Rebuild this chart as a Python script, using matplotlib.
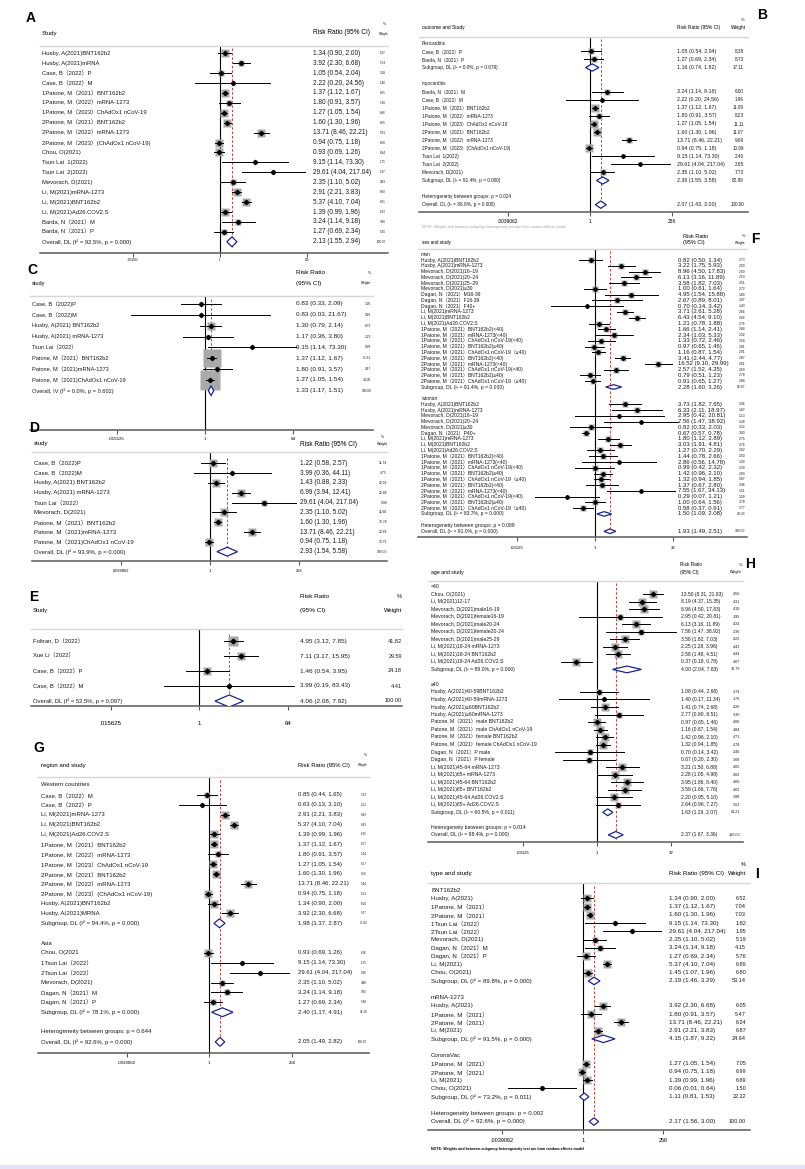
import matplotlib
matplotlib.use("Agg")
import matplotlib.pyplot as plt
import matplotlib.transforms as mtransforms
from matplotlib.patches import Polygon, Rectangle
from matplotlib.ticker import NullLocator
import numpy as np

plt.rcParams['font.family'] = ['Liberation Sans', 'Noto Sans CJK SC']

W, H = 805, 1169

# ---------------- data ----------------
# A: overall
A_labels = ["Husby, A(2021)BNT162b2", "Husby, A(2021)mRNA", "Case, B（2022）P", "Case, B（2022）M",
            "1Patone, M（2021）BNT162b2", "1Patone, M（2022）mRNA-1273", "1Patone, M（2023）ChAdOx1 nCoV-19",
            "2Patone, M（2021）BNT162b2", "2Patone, M（2022）mRNA-1273", "2Patone, M（2023）(ChAdOx1 nCoV-19)",
            "Chou, O(2021)", "Tsun Lai  1(2022)", "Tsun Lai  2(2022)", "Mevorach, D(2021)",
            "Li, M(2021)mRNA-1273", "Li, M(2021)BNT162b2", "Li, M(2021)Ad26.COV2.S",
            "Barda, N（2021）M", "Barda, N（2021）P", "Overall, DL (I² = 92.5%, p = 0.000)"]
A_rr = [1.34, 3.92, 1.05, 2.22, 1.37, 1.80, 1.27, 1.60, 13.71, 0.94, 0.93, 9.15, 29.61, 2.35, 2.91, 5.37, 1.39, 3.24, 1.27, 2.13]
A_lo = [0.90, 2.30, 0.54, 0.20, 1.12, 0.91, 1.05, 1.30, 8.46, 0.75, 0.69, 1.14, 4.04, 1.10, 2.21, 4.10, 0.99, 1.14, 0.69, 1.55]
A_hi = [2.00, 6.68, 2.04, 24.56, 1.67, 3.57, 1.54, 1.96, 22.21, 1.18, 1.26, 73.30, 217.04, 5.02, 3.83, 7.04, 1.96, 9.18, 2.34, 2.94]
A_wt = [6.17, 5.74, 5.28, 1.40, 6.65, 5.20, 6.66, 6.65, 5.91, 6.60, 6.44, 1.75, 1.87, 4.93, 6.60, 6.61, 6.33, 3.98, 5.45, 100.00]

# B: outcome
B_labels = ["Pericarditis", "Case, B（2022）P", "Barda, N（2021）P", "Subgroup, DL (I² = 0.0%, p = 0.679)", "",
            "myocarditis", "Barda, N（2021）M", "Case, B（2022）M", "1Patone, M（2021）BNT162b2",
            "1Patone, M（2022）mRNA-1273", "1Patone, M（2023）ChAdOx1 nCoV-19", "2Patone, M（2021）BNT162b2",
            "2Patone, M（2022）mRNA-1273", "2Patone, M（2023）(ChAdOx1 nCoV-19)", "Tsun Lai  1(2022)",
            "Tsun Lai  2(2022)", "Mevorach, D(2021)", "Subgroup, DL (I² = 91.4%, p = 0.000)", "",
            "Heterogeneity between groups: p = 0.024", "Overall, DL (I² = 86.8%, p = 0.000)"]
B_rr = [None, 1.05, 1.27, 1.16, None, None, 3.24, 2.22, 1.37, 1.80, 1.27, 1.60, 13.71, 0.94, 9.15, 29.61, 2.35, 2.36, None, None, 2.07]
B_lo = [None, 0.54, 0.69, 0.74, None, None, 1.14, 0.20, 1.12, 0.91, 1.05, 1.30, 8.46, 0.75, 1.14, 4.04, 1.10, 1.55, None, None, 1.43]
B_hi = [None, 2.04, 2.34, 1.82, None, None, 9.18, 24.56, 1.67, 3.57, 1.54, 1.96, 22.21, 1.18, 73.30, 217.04, 5.02, 3.58, None, None, 3.00]
B_wt = [None, 8.38, 8.73, 17.11, None, None, 6.00, 1.96, 11.09, 8.23, 11.11, 11.07, 9.69, 10.99, 2.46, 2.65, 7.73, 82.89, None, None, 100.00]

# C
C_labels = ["Case, B（2022)P", "Case, B（2022)M", "Husby, A(2021) BNT162b2", "Husby, A(2021) mRNA-1273",
            "Tsun Lai（2022）", "Patone, M（2021）BNT162b2", "Patone, M（2021)mRNA-1273",
            "Patone, M（2021)ChAdOx1 nCoV-19", "Overall, IV (I² = 0.0%, p = 0.602)"]
C_rr = [0.83, 0.83, 1.30, 1.17, 9.15, 1.37, 1.80, 1.27, 1.33]
C_lo = [0.33, 0.03, 0.79, 0.36, 1.14, 1.12, 0.91, 1.05, 1.17]
C_hi = [2.09, 21.67, 2.14, 3.80, 73.30, 1.67, 3.57, 1.54, 1.51]
C_wt = [1.95, 0.16, 6.73, 1.21, 0.39, 41.61, 3.67, 44.09, 100.00]

# D
D_labels = ["Case, B（2022)P", "Case, B（2022)M", "Husby, A(2021) BNT162b2", "Husby, A(2021) mRNA-1273",
            "Tsun Lai（2022）", "Mevorach, D(2021)", "Patone, M（2021）BNT162b2", "Patone, M（2021)mRNA-1273",
            "Patone, M（2021)ChAdOx1 nCoV-19", "Overall, DL (I² = 93.9%, p = 0.000)"]
D_rr = [1.22, 3.99, 1.43, 6.99, 29.61, 2.35, 1.60, 13.71, 0.94, 2.93]
D_lo = [0.58, 0.36, 0.88, 3.94, 4.04, 1.10, 1.30, 8.46, 0.75, 1.54]
D_hi = [2.57, 44.11, 2.33, 12.41, 217.04, 5.02, 1.96, 22.21, 1.18, 5.58]
D_wt = [11.74, 4.73, 12.92, 12.88, 5.98, 11.68, 13.78, 12.64, 13.71, 100.00]

# E
E_labels = ["Foltran, D（2022）", "Xue Li（2022）", "Case, B（2022）P", "Case, B（2022）M",
            "Overall, DL (I² = 52.5%, p = 0.097)"]
E_rr = [4.95, 7.11, 1.46, 3.99, 4.06]
E_lo = [3.12, 3.17, 0.54, 0.19, 2.08]
E_hi = [7.85, 15.95, 3.95, 83.43, 7.92]
E_wt = [41.82, 29.59, 24.18, 4.41, 100.00]

# F: sex
F_labels = ["man", "Husby, A(2021)BNT162b2", "Husby, A(2021)mRNA-1273", "Mevorach, D(2021)16–19",
            "Mevorach, D(2021)20–24", "Mevorach, D(2021)25–29", "Mevorach, D(2021)≥30",
            "Dagan, N（2021）M16-39", "Dagan, N（2021）F16-39", "Dagan, N（2021）F40+",
            "Li, M(2021)mRNA-1273", "Li, M(2021)BNT162b2", "Li, M(2021)Ad26.COV2.S",
            "1Patone, M（2021）BNT162b2(<40)", "1Patone, M（2021）mRNA-1273(<40)",
            "1Patone, M（2021）ChAdOx1 nCoV-19(<40)", "1Patone, M（2021）BNT162b2(≥40)",
            "1Patone, M（2021）ChAdOx1 nCoV-19（≥40)", "2Patone, M（2021）BNT162b2(<40)",
            "2Patone, M（2021）mRNA-1273(<40)", "2Patone, M（2021）ChAdOx1 nCoV-19(<40)",
            "2Patone, M（2021）BNT162b2(≥40)", "2Patone, M（2021）ChAdOx1 nCoV-19（≥40)",
            "Subgroup, DL (I² = 91.4%, p = 0.000)", "",
            "woman", "Husby, A(2021)BNT162b2", "Husby, A(2021)mRNA-1273", "Mevorach, D(2021)16–19",
            "Mevorach, D(2021)20–24", "Mevorach, D(2021)≥30", "Dagan, N（2021）P40+",
            "Li, M(2021)mRNA-1273", "Li, M(2021)BNT162b2", "Li, M(2021)Ad26.COV2.S",
            "1Patone, M（2021）BNT162b2(<40)", "1Patone, M（2021）mRNA-1273(<40)",
            "1Patone, M（2021）ChAdOx1 nCoV-19(<40)", "1Patone, M（2021）BNT162b2(≥40)",
            "1Patone, M（2021）ChAdOx1 nCoV-19（≥40)", "2Patone, M（2021）BNT162b2(<40)",
            "2Patone, M（2021）mRNA-1273(<40)", "2Patone, M（2021）ChAdOx1 nCoV-19(<40)",
            "2Patone, M（2021）BNT162b2(≥40)", "2Patone, M（2021）ChAdOx1 nCoV-19（≥40)",
            "Subgroup, DL (I² = 83.7%, p = 0.000)", "",
            "Heterogeneity between groups: p = 0.089", "Overall, DL (I² = 91.0%, p = 0.000)"]
F_rr = [None, 0.82, 3.22, 8.96, 6.13, 3.58, 1.00, 4.95, 2.67, 0.70, 3.71, 6.43, 1.21, 1.66, 2.34, 1.33, 0.97, 1.16,
        3.41, 16.52, 2.57, 0.79, 0.91, 2.28, None,
        None, 3.73, 6.33, 2.95, 7.56, 0.82, 0.67, 1.80, 3.03, 1.27, 1.44, 2.86, 0.99, 1.42, 1.32,
        1.37, 7.55, 0.29, 1.00, 0.58, 1.50, None, None, 1.93]
F_lo = [None, 0.50, 1.75, 4.50, 3.16, 1.82, 0.61, 1.54, 0.89, 0.14, 2.61, 4.54, 0.78, 1.14, 1.03, 0.72, 0.65, 0.87,
        2.44, 9.10, 1.52, 0.51, 0.65, 1.60, None,
        None, 1.82, 2.11, 0.42, 1.47, 0.33, 0.57, 1.12, 1.91, 0.70, 0.78, 0.56, 0.42, 0.96, 0.94,
        0.67, 1.67, 0.07, 0.64, 0.37, 1.09, None, None, 1.49]
F_hi = [None, 1.34, 5.93, 17.83, 11.89, 7.03, 1.64, 15.88, 8.01, 3.42, 5.28, 9.10, 1.88, 2.41, 5.33, 2.46, 1.46, 1.54,
        4.77, 29.99, 4.35, 1.23, 1.27, 3.26, None,
        None, 7.65, 18.97, 20.81, 38.92, 2.03, 0.78, 2.89, 4.81, 2.29, 2.66, 14.78, 2.32, 2.10, 1.85,
        2.80, 34.13, 1.21, 1.56, 0.91, 2.08, None, None, 2.51]
F_wt = [None, 2.73, 2.59, 2.50, 2.53, 2.51, 2.72, 1.89, 1.97, 1.43, 2.66, 2.66, 2.76, 2.84, 2.32, 2.58, 2.81, 2.91,
        2.87, 2.61, 2.69, 2.78, 2.88, 56.67, None,
        None, 2.46, 1.87, 1.13, 1.38, 2.22, 3.00, 2.75, 2.76, 2.62, 2.50, 1.39, 2.29, 2.83, 2.87,
        2.46, 1.51, 1.59, 2.78, 2.77, 43.33, None, None, 100.00]

# G: region
G_labels = ["Western countries", "Case, B（2022）M", "Case, B（2022）P", "Li, M(2021)mRNA-1273", "Li, M(2021)BNT162b2",
            "Li, M(2021)Ad26.COV2.S", "1Patone, M（2021）BNT162b2", "1Patone, M（2022）mRNA-1273",
            "1Patone, M（2023）ChAdOx1 nCoV-19", "2Patone, M（2021）BNT162b2", "2Patone, M（2022）mRNA-1273",
            "2Patone, M（2023）(ChAdOx1 nCoV-19)", "Husby, A(2021)BNT162b2", "Husby, A(2021)MRNA",
            "Subgroup, DL (I² = 94.4%, p = 0.000)", "",
            "Asia", "Chou, O(2021", "1Tsun Lai（2022）", "2Tsun Lai（2022）", "Mevorach, D(2021)",
            "Dagan, N（2021）M", "Dagan, N（2021）P", "Subgroup, DL (I² = 78.1%, p = 0.000)", "",
            "Heterogeneity between groups: p = 0.644", "Overall, DL (I² = 92.6%, p = 0.000)"]
G_rr = [None, 0.85, 0.63, 2.91, 5.37, 1.39, 1.37, 1.80, 1.27, 1.60, 13.71, 0.94, 1.34, 3.92, 1.98, None,
        None, 0.93, 9.15, 29.61, 2.35, 3.24, 1.27, 2.40, None, None, 2.05]
G_lo = [None, 0.44, 0.13, 2.21, 4.10, 0.99, 1.12, 0.91, 1.05, 1.30, 8.46, 0.75, 0.90, 2.30, 1.37, None,
        None, 0.69, 1.14, 4.04, 1.10, 1.14, 0.69, 1.17, None, None, 1.49]
G_hi = [None, 1.65, 3.10, 3.83, 7.04, 1.96, 1.67, 3.57, 1.54, 1.96, 22.21, 1.18, 2.00, 6.68, 2.87, None,
        None, 1.26, 73.30, 217.04, 5.02, 9.18, 2.34, 4.91, None, None, 2.82]
G_wt = [None, 5.23, 2.52, 6.42, 6.43, 6.25, 6.57, 5.14, 6.57, 6.56, 5.84, 6.52, 6.10, 5.67, 75.82, None,
        None, 6.36, 1.75, 1.86, 4.88, 3.93, 5.40, 24.18, None, None, 100.00]

# H: age
H_labels = ["<40", "Chou, O(2021)", "Li, M(2021)12-17", "Mevorach, D(2021)male16-19", "Mevorach, D(2021)female16-19",
            "Mevorach, D(2021)male20-24", "Mevorach, D(2021)female20-24", "Mevorach, D(2021)male25-29",
            "Li, M(2021)18-24 mRNA-1273", "Li, M(2021)18-24 BNT162b2", "Li, M(2021)18-24 Ad26.COV2.S",
            "Subgroup, DL (I² = 89.0%, p = 0.000)", "",
            "≥40", "Husby, A(2021)40-59BNT162b2", "Husby, A(2021)40-59mRNA-1273", "Husby, A(2021)≥60BNT162b2",
            "Husby, A(2021)≥60mRNA-1273", "Patone, M（2021）male BNT162b2", "Patone, M（2021）male ChAdOx1 nCoV-19",
            "Patone, M（2021）female BNT162b2", "Patone, M（2021）female ChAdOx1 nCoV-19",
            "Dagan, N（2021）P male", "Dagan, N（2021）P female", "Li, M(2021)45-64 mRNA-1273",
            "Li, M(2021)65+ mRNA-1273", "Li, M(2021)45-64 BNT162b2", "Li, M(2021)65+ BNT162b2",
            "Li, M(2021)45-64 Ad26.COV2.S", "Li, M(2021)65+ Ad26.COV2.S",
            "Subgroup, DL (I² = 60.5%, p = 0.011)", "",
            "Heterogeneity between groups: p = 0.014", "Overall, DL (I² = 88.4%, p = 0.000)"]
H_rr = [None, 13.50, 8.19, 8.96, 2.95, 6.13, 7.56, 3.58, 2.25, 2.58, 0.37, 4.00, None,
        None, 1.08, 1.40, 1.41, 2.77, 0.97, 1.16, 1.42, 1.32, 0.70, 0.67, 3.21, 2.28, 3.95, 3.59, 2.20, 2.64, 1.63, None,
        None, 2.37]
H_lo = [None, 8.31, 4.37, 4.50, 0.42, 3.16, 1.47, 1.82, 1.28, 1.48, 0.18, 2.04, None,
        None, 0.44, 0.17, 0.74, 0.90, 0.65, 0.87, 0.96, 0.94, 0.14, 0.20, 1.50, 1.05, 1.86, 1.66, 0.95, 0.96, 1.29, None,
        None, 1.67]
H_hi = [None, 21.93, 15.35, 17.83, 20.81, 11.89, 38.92, 7.03, 3.96, 4.51, 0.78, 7.83, None,
        None, 2.68, 11.34, 2.68, 8.51, 1.46, 1.54, 2.10, 1.85, 3.42, 2.30, 6.88, 4.98, 8.40, 7.76, 5.10, 7.27, 2.07, None,
        None, 3.36]
H_wt = [None, 4.56, 4.31, 4.19, 1.95, 4.24, 2.36, 4.22, 4.43, 4.44, 4.07, 38.79, None,
        None, 3.74, 1.79, 4.26, 3.30, 4.68, 4.84, 4.71, 4.78, 2.46, 3.08, 4.05, 4.02, 4.06, 4.02, 3.88, 3.52, 61.21, None,
        None, 100.00]

# I: vaccine type
I_labels = ["BNT162b2", "Husby, A(2021)", "1Patone, M（2021）", "2Patone, M（2021）", "1Tsun Lai（2022）",
            "2Tsun Lai（2022）", "Mevorach, D(2021)", "Dagan, N（2021）M", "Dagan, N（2021）P", "Li, M(2021)",
            "Chou, O(2021)", "Subgroup, DL (I² = 89.8%, p = 0.000)", "",
            "mRNA-1273", "Husby, A(2021)", "1Patone, M（2021）", "2Patone, M（2021）", "Li, M(2021)",
            "Subgroup, DL (I² = 91.5%, p = 0.000)", "",
            "CoronaVac", "1Patone, M（2021）", "2Patone, M（2021）", "Li, M(2021)", "Chou, O(2021)",
            "Subgroup, DL (I² = 73.2%, p = 0.011)", "",
            "Heterogeneity between groups: p = 0.002", "Overall, DL (I² = 92.6%, p = 0.000)"]
I_rr = [None, 1.34, 1.37, 1.60, 9.15, 29.61, 2.35, 3.24, 1.27, 5.37, 1.45, 2.19, None,
        None, 3.92, 1.80, 13.71, 2.91, 4.15, None,
        None, 1.27, 0.94, 1.39, 0.06, 1.11, None, None, 2.17]
I_lo = [None, 0.90, 1.12, 1.30, 1.14, 4.04, 1.10, 1.14, 0.69, 4.10, 1.07, 1.46, None,
        None, 2.30, 0.91, 8.46, 2.21, 1.87, None,
        None, 1.05, 0.75, 0.99, 0.006, 0.81, None, None, 1.56]
I_hi = [None, 2.00, 1.67, 1.96, 73.30, 217.04, 5.02, 9.18, 2.34, 7.04, 1.96, 3.29, None,
        None, 6.68, 3.57, 22.21, 3.83, 9.22, None,
        None, 1.54, 1.18, 1.96, 0.64, 1.53, None, None, 3.00]
I_wt = [None, 6.52, 7.04, 7.03, 1.82, 1.95, 5.19, 4.15, 5.76, 6.89, 6.80, 53.14, None,
        None, 6.05, 5.47, 6.24, 6.87, 24.64, None,
        None, 7.05, 6.99, 6.69, 1.50, 22.22, None, None, 100.00]

T256 = ([1 / 256, 1, 256], ['.0039062', '1', '256'])
T64 = ([1 / 64, 1, 64], ['.015625', '1', '64'])
T32 = ([1 / 32, 1, 32], ['.03125', '1', '32'])

fig = plt.figure(figsize=(W / 100, H / 100), dpi=100)


def put(px, py, s, fs, ha='left', **kw):
    fig.text(px / W, 1 - py / H, s, fontsize=fs, ha=ha, va='center', **kw)


def forest(L, labels, rr, lo, hi, wt):
    x0, x1, ytop, ybot = L['box']
    ax = fig.add_axes([x0 / W, 1 - ybot / H, (x1 - x0) / W, (ybot - ytop) / H])
    ax.set_xscale('log', base=2)
    nx, ppu = L['null'], L['ppu']
    ax.set_xlim(2 ** ((x0 - nx) / ppu), 2 ** ((x1 - nx) / ppu))
    r0, dy = L['row0'], L['dy']
    ax.set_ylim((ybot - r0) / dy, (ytop - r0) / dy)
    tr = mtransforms.blended_transform_factory(ax.transAxes, ax.transData)

    def fx(px):
        return (px - x0) / (x1 - x0)

    n = len(labels)
    ax.axvline(1, color='black', lw=0.8, zorder=1)
    ov = rr[-1]
    ax.plot([ov, ov], [-0.5, n - 0.5], color='#d03a3a', lw=0.7, ls=(0, (2.5, 2)), zorder=1)

    for i, lab in enumerate(labels):
        if lab == '':
            continue
        ax.text(fx(L['lab_x']), i, lab, transform=tr, fontsize=L['fs'], va='center', ha='left',
                color='#1a1a1a', clip_on=False)
        if rr[i] is None:
            continue
        ax.text(fx(L['rr_x']), i, f"{rr[i]:.2f} ({lo[i]:.2f}, {hi[i]:.2f})", transform=tr,
                fontsize=L['fs_rr'], va='center', ha='left', color='#1a1a1a', clip_on=False)
        ax.text(fx(L['wt_x']), i, f"{wt[i]:.2f}", transform=tr, fontsize=L['fs_w'],
                va='center', ha='right', color='#1a1a1a', clip_on=False)
        if lab.startswith('Subgroup') or lab.startswith('Overall'):
            h = L['dh']
            ax.add_patch(Polygon([[lo[i], i], [rr[i], i - h], [hi[i], i], [rr[i], i + h]], closed=True,
                                 fc='white', ec='#1c2590', lw=0.9, zorder=4))
        else:
            side = L['k'] * np.sqrt(wt[i]) * 0.72
            ax.plot(rr[i], i, marker='s', ms=side, color='#a9a9a9', mec='none', zorder=2)
            ax.plot([lo[i], hi[i]], [i, i], color='black', lw=0.7, zorder=3)
            ax.plot(rr[i], i, marker='D', ms=L['dot'], color='black', zorder=3)

    for s in ['left', 'right']:
        ax.spines[s].set_visible(False)
    ax.spines['top'].set_color('#d6d6d6')
    ax.spines['top'].set_linewidth(1.0)
    ax.spines['bottom'].set_color('#5a5a5a')
    ax.spines['bottom'].set_linewidth(1.1)
    ax.set_yticks([])
    ax.set_xticks(L['ticks'][0])
    ax.set_xticklabels(L['ticks'][1])
    ax.xaxis.set_minor_locator(NullLocator())
    ax.tick_params(axis='x', length=3, width=0.8, color='#5a5a5a', labelsize=L['fs_t'], pad=L['pad'])
    ax.patch.set_alpha(0)
    return ax


# ---------------- panels ----------------
forest(dict(box=(40, 388, 46, 253), null=220, ppu=10.9, row0=53.3, dy=9.92, lab_x=42, rr_x=313, wt_x=386,
            fs=4.2, fs_rr=4.7, fs_w=2.2, fs_t=2, pad=0.5, k=2.9, dh=0.5, dot=2.2, ticks=T256),
       A_labels, A_rr, A_lo, A_hi, A_wt)
put(42, 33, "Study", 4.3)
put(313, 33, "Risk Ratio (95% CI)", 4.7)
put(388, 34, "Weight", 2.2, ha='right')
put(386, 24, "%", 2.5, ha='right')
put(26, 18, "A", 10, weight='bold')

forest(dict(box=(419, 748, 36.7, 212.3), null=590, ppu=10.3, row0=43.3, dy=8.07, lab_x=421.7, rr_x=676.7, wt_x=744,
            fs=3.4, fs_rr=3.8, fs_w=3.3, fs_t=3.5, pad=2, k=2.2, dh=0.45, dot=2, ticks=T256),
       B_labels, B_rr, B_lo, B_hi, B_wt)
put(421.7, 28, "outcome and Study", 3.5)
put(676.7, 28, "Risk Ratio (95% CI)", 3.5)
put(746, 28, "Weight", 3.4, ha='right')
put(744, 20, "%", 3, ha='right')
put(757, 15, "B", 10, weight='bold')
put(421.7, 226.5, "NOTE: Weights and between-subgroup heterogeneity test are from random-effects model", 2.6,
    color='#a0a0a0')

forest(dict(box=(30, 372.7, 296, 430), null=205, ppu=14.7, row0=304, dy=10.84, lab_x=31.7, rr_x=296, wt_x=371,
            fs=4.1, fs_rr=4.6, fs_w=2.3, fs_t=3.2, pad=2, k=2.9, dh=0.45, dot=2.2, ticks=T64),
       C_labels, C_rr, C_lo, C_hi, C_wt)
put(31.7, 283.3, "study", 4.1)
put(296, 272.7, "Risk Ratio", 4.6)
put(296, 283.3, "(95% CI)", 4.6)
put(371, 272.7, "%", 2.5, ha='right')
put(371, 283.3, "Weight", 2.3, ha='right')
put(27, 270, "C", 10, weight='bold')

forest(dict(box=(31.7, 386.7, 452.3, 561), null=210, ppu=11.1, row0=463.3, dy=9.82, lab_x=34.3, rr_x=300, wt_x=387,
            fs=4.3, fs_rr=4.7, fs_w=2.4, fs_t=2.9, pad=2.5, k=2.2, dh=0.45, dot=2.2, ticks=T256),
       D_labels, D_rr, D_lo, D_hi, D_wt)
put(34.3, 444, "study", 4.3)
put(300, 444, "Risk Ratio (95% CI)", 4.7)
put(388, 444, "Weight", 2.5, ha='right')
put(384, 436.7, "%", 2.5, ha='right')
put(29, 428, "D", 10, weight='bold')

forest(dict(box=(30.7, 402, 629, 705.7), null=199.3, ppu=14.8, row0=641, dy=15, lab_x=33, rr_x=300, wt_x=402,
            fs=4.2, fs_rr=4.6, fs_w=4.0, fs_t=4.4, pad=8, k=1.65, dh=0.4, dot=2.4, ticks=T64),
       E_labels, E_rr, E_lo, E_hi, E_wt)
put(33, 610.5, "Study", 4.2)
put(300, 596, "Risk Ratio", 4.6)
put(300, 610.5, "(95% CI)", 4.6)
put(402, 610.5, "Weight", 4.2, ha='right')
put(402, 596, "%", 4.2, ha='right')
put(29, 597, "E", 10, weight='bold')

forest(dict(box=(418.3, 746.7, 249, 537.3), null=595, ppu=15.67, row0=254.3, dy=5.77, lab_x=420.7, rr_x=678.3,
            wt_x=745, fs=3.6, fs_rr=4.3, fs_w=2.4, fs_t=3.1, pad=3, k=3.9, dh=0.4, dot=2.0, ticks=T32),
       F_labels, F_rr, F_lo, F_hi, F_wt)
put(421.7, 242.3, "sex and study", 3.3)
put(682.7, 236, "Risk Ratio", 4.0)
put(682.7, 242.3, "(95% CI)", 4.0)
put(745, 236, "%", 2.8, ha='right')
put(745, 243, "Weight", 2.4, ha='right')
put(751, 239, "F", 10, weight='bold')

forest(dict(box=(38.3, 369.3, 776.7, 1052.7), null=209.3, ppu=10.33, row0=785, dy=9.88, lab_x=40.7, rr_x=297.7,
            wt_x=367, fs=4.3, fs_rr=4.3, fs_w=2.2, fs_t=3.2, pad=3, k=3.0, dh=0.45, dot=2.2, ticks=T256),
       G_labels, G_rr, G_lo, G_hi, G_wt)
put(40.7, 765, "region and study", 4.3)
put(297.7, 765, "Risk Ratio (95% CI)", 4.2)
put(367, 765, "Weight", 2.2, ha='right')
put(367, 755, "%", 2.5, ha='right')
put(33, 748, "G", 10, weight='bold')

forest(dict(box=(428.3, 743.3, 581, 841.7), null=597.3, ppu=14.83, row0=586.7, dy=7.52, lab_x=431, rr_x=680.7,
            wt_x=740, fs=3.7, fs_rr=3.6, fs_w=2.7, fs_t=3.1, pad=3.5, k=3.6, dh=0.45, dot=2.2, ticks=T32),
       H_labels, H_rr, H_lo, H_hi, H_wt)
put(431, 572.3, "age and study", 3.7)
put(680, 565, "Risk Ratio", 3.4)
put(680, 572.3, "(95% CI)", 3.4)
put(742, 565, "%", 2.8, ha='right')
put(742, 572.3, "Weight", 2.7, ha='right')
put(745, 564, "H", 10, weight='bold')

forest(dict(box=(428.3, 750, 883.3, 1130), null=582.7, ppu=10.08, row0=890, dy=8.27, lab_x=431, rr_x=669.3,
            wt_x=746, fs=4.45, fs_rr=4.5, fs_w=4.0, fs_t=4.0, pad=3, k=3.0, dh=0.45, dot=2.2, ticks=T256),
       I_labels, I_rr, I_lo, I_hi, I_wt)
put(431, 874, "type and study", 4.5)
put(669.3, 874, "Risk Ratio (95% CI)", 4.5)
put(746, 874, "Weight", 4.2, ha='right')
put(746, 865, "%", 4.0, ha='right')
put(755, 874, "I", 10, weight='bold')
put(431, 1149.3, "NOTE: Weights and between-subgroup heterogeneity test are from random-effects model", 2.6,
    weight='bold')

fig.patches.append(Rectangle((0, 0), 1, 4.5 / H, transform=fig.transFigure, fc='#e4e4f6', ec='none'))

fig.savefig('out.png', dpi=100)
